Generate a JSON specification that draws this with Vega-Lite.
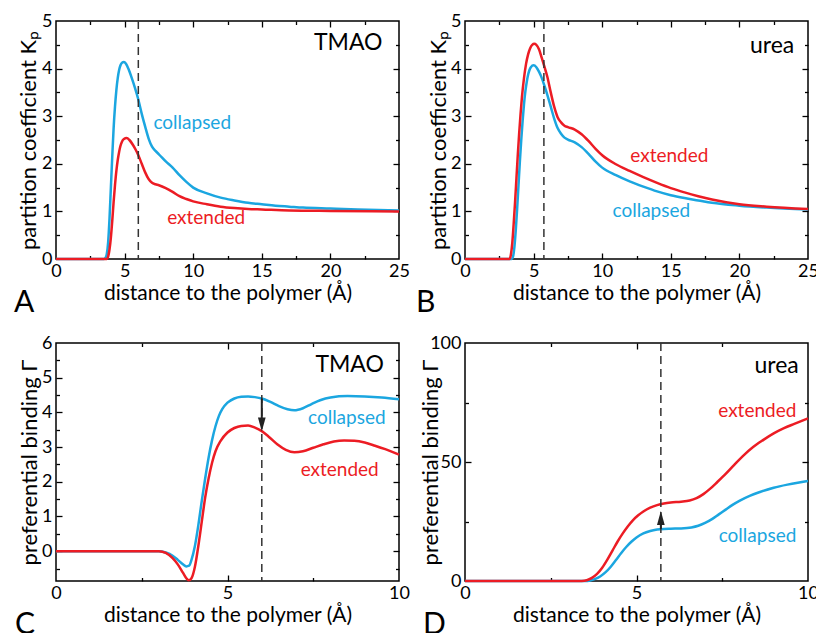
{
"$schema":"https://vega.github.io/schema/vega-lite/v6.json",
"padding":{"left":13,"top":11,"right":0,"bottom":0},
"config":{"font":"Lato","view":{"stroke":"black","strokeWidth":1.5},
"axis":{"labelFont":"Lato","labelFontSize":18,"labelColor":"black","titleFont":"Lato","titleFontSize":21,"titleFontWeight":"normal","titleColor":"black","tickColor":"black","tickWidth":1.3},
"axisLeft":{"titleFontSize":22,"titleBaseline":"middle"},
"title":{"font":"Lato","fontSize":30,"fontWeight":"normal","color":"black"}},
"datasets":{
"A":[
{"x":0,"y":0,"s":"collapsed"},{"x":3.5,"y":0,"s":"collapsed"},{"x":3.6,"y":0.02,"s":"collapsed"},{"x":3.7,"y":0.1,"s":"collapsed"},{"x":3.8,"y":0.35,"s":"collapsed"},{"x":3.9,"y":0.85,"s":"collapsed"},{"x":4.0,"y":1.5,"s":"collapsed"},{"x":4.1,"y":2.15,"s":"collapsed"},{"x":4.2,"y":2.75,"s":"collapsed"},{"x":4.3,"y":3.2,"s":"collapsed"},{"x":4.4,"y":3.55,"s":"collapsed"},{"x":4.5,"y":3.8,"s":"collapsed"},{"x":4.6,"y":3.97,"s":"collapsed"},{"x":4.7,"y":4.07,"s":"collapsed"},{"x":4.8,"y":4.12,"s":"collapsed"},{"x":4.95,"y":4.14,"s":"collapsed"},{"x":5.1,"y":4.1,"s":"collapsed"},{"x":5.3,"y":3.98,"s":"collapsed"},{"x":5.5,"y":3.82,"s":"collapsed"},{"x":5.75,"y":3.6,"s":"collapsed"},{"x":6.0,"y":3.35,"s":"collapsed"},{"x":6.25,"y":3.05,"s":"collapsed"},{"x":6.5,"y":2.78,"s":"collapsed"},{"x":6.75,"y":2.53,"s":"collapsed"},{"x":7.0,"y":2.36,"s":"collapsed"},{"x":7.25,"y":2.27,"s":"collapsed"},{"x":7.5,"y":2.2,"s":"collapsed"},{"x":8.0,"y":2.05,"s":"collapsed"},{"x":8.5,"y":1.92,"s":"collapsed"},{"x":9.0,"y":1.76,"s":"collapsed"},{"x":9.5,"y":1.62,"s":"collapsed"},{"x":10,"y":1.5,"s":"collapsed"},{"x":11,"y":1.38,"s":"collapsed"},{"x":12,"y":1.29,"s":"collapsed"},{"x":13,"y":1.23,"s":"collapsed"},{"x":14,"y":1.18,"s":"collapsed"},{"x":15,"y":1.15,"s":"collapsed"},{"x":16,"y":1.12,"s":"collapsed"},{"x":17,"y":1.1,"s":"collapsed"},{"x":18,"y":1.08,"s":"collapsed"},{"x":20,"y":1.06,"s":"collapsed"},{"x":22,"y":1.04,"s":"collapsed"},{"x":25,"y":1.02,"s":"collapsed"},
{"x":0,"y":0,"s":"extended"},{"x":3.7,"y":0,"s":"extended"},{"x":3.8,"y":0.05,"s":"extended"},{"x":3.9,"y":0.2,"s":"extended"},{"x":4.0,"y":0.45,"s":"extended"},{"x":4.1,"y":0.8,"s":"extended"},{"x":4.2,"y":1.2,"s":"extended"},{"x":4.3,"y":1.55,"s":"extended"},{"x":4.4,"y":1.85,"s":"extended"},{"x":4.5,"y":2.08,"s":"extended"},{"x":4.6,"y":2.25,"s":"extended"},{"x":4.7,"y":2.38,"s":"extended"},{"x":4.8,"y":2.46,"s":"extended"},{"x":4.95,"y":2.52,"s":"extended"},{"x":5.15,"y":2.54,"s":"extended"},{"x":5.35,"y":2.5,"s":"extended"},{"x":5.6,"y":2.4,"s":"extended"},{"x":5.8,"y":2.3,"s":"extended"},{"x":6.0,"y":2.18,"s":"extended"},{"x":6.25,"y":2.0,"s":"extended"},{"x":6.5,"y":1.82,"s":"extended"},{"x":6.75,"y":1.68,"s":"extended"},{"x":7.0,"y":1.6,"s":"extended"},{"x":7.25,"y":1.57,"s":"extended"},{"x":7.5,"y":1.55,"s":"extended"},{"x":8.0,"y":1.49,"s":"extended"},{"x":8.5,"y":1.41,"s":"extended"},{"x":9.0,"y":1.32,"s":"extended"},{"x":9.5,"y":1.26,"s":"extended"},{"x":10,"y":1.21,"s":"extended"},{"x":11,"y":1.15,"s":"extended"},{"x":12,"y":1.1,"s":"extended"},{"x":13,"y":1.07,"s":"extended"},{"x":14,"y":1.05,"s":"extended"},{"x":15,"y":1.04,"s":"extended"},{"x":17,"y":1.02,"s":"extended"},{"x":20,"y":1.01,"s":"extended"},{"x":25,"y":1.0,"s":"extended"}
],
"B":[
{"x":0,"y":0,"s":"collapsed"},{"x":3.4,"y":0,"s":"collapsed"},{"x":3.5,"y":0.05,"s":"collapsed"},{"x":3.6,"y":0.25,"s":"collapsed"},{"x":3.7,"y":0.6,"s":"collapsed"},{"x":3.8,"y":1.05,"s":"collapsed"},{"x":3.9,"y":1.55,"s":"collapsed"},{"x":4.0,"y":2.05,"s":"collapsed"},{"x":4.1,"y":2.5,"s":"collapsed"},{"x":4.2,"y":2.9,"s":"collapsed"},{"x":4.3,"y":3.25,"s":"collapsed"},{"x":4.4,"y":3.52,"s":"collapsed"},{"x":4.5,"y":3.72,"s":"collapsed"},{"x":4.6,"y":3.87,"s":"collapsed"},{"x":4.7,"y":3.97,"s":"collapsed"},{"x":4.8,"y":4.03,"s":"collapsed"},{"x":5.0,"y":4.07,"s":"collapsed"},{"x":5.2,"y":4.03,"s":"collapsed"},{"x":5.4,"y":3.93,"s":"collapsed"},{"x":5.6,"y":3.8,"s":"collapsed"},{"x":5.8,"y":3.63,"s":"collapsed"},{"x":6.0,"y":3.45,"s":"collapsed"},{"x":6.25,"y":3.2,"s":"collapsed"},{"x":6.5,"y":2.95,"s":"collapsed"},{"x":6.75,"y":2.75,"s":"collapsed"},{"x":7.0,"y":2.63,"s":"collapsed"},{"x":7.25,"y":2.55,"s":"collapsed"},{"x":7.5,"y":2.51,"s":"collapsed"},{"x":8.0,"y":2.45,"s":"collapsed"},{"x":8.5,"y":2.35,"s":"collapsed"},{"x":9.0,"y":2.21,"s":"collapsed"},{"x":9.5,"y":2.05,"s":"collapsed"},{"x":10,"y":1.92,"s":"collapsed"},{"x":11,"y":1.76,"s":"collapsed"},{"x":12,"y":1.63,"s":"collapsed"},{"x":13,"y":1.52,"s":"collapsed"},{"x":14,"y":1.42,"s":"collapsed"},{"x":15,"y":1.34,"s":"collapsed"},{"x":16,"y":1.28,"s":"collapsed"},{"x":17,"y":1.23,"s":"collapsed"},{"x":18,"y":1.18,"s":"collapsed"},{"x":20,"y":1.12,"s":"collapsed"},{"x":22,"y":1.08,"s":"collapsed"},{"x":25,"y":1.04,"s":"collapsed"},
{"x":0,"y":0,"s":"extended"},{"x":3.25,"y":0,"s":"extended"},{"x":3.35,"y":0.1,"s":"extended"},{"x":3.45,"y":0.35,"s":"extended"},{"x":3.55,"y":0.75,"s":"extended"},{"x":3.65,"y":1.2,"s":"extended"},{"x":3.75,"y":1.7,"s":"extended"},{"x":3.85,"y":2.2,"s":"extended"},{"x":3.95,"y":2.65,"s":"extended"},{"x":4.05,"y":3.05,"s":"extended"},{"x":4.15,"y":3.4,"s":"extended"},{"x":4.3,"y":3.8,"s":"extended"},{"x":4.45,"y":4.1,"s":"extended"},{"x":4.6,"y":4.3,"s":"extended"},{"x":4.75,"y":4.43,"s":"extended"},{"x":4.9,"y":4.5,"s":"extended"},{"x":5.05,"y":4.52,"s":"extended"},{"x":5.2,"y":4.5,"s":"extended"},{"x":5.4,"y":4.4,"s":"extended"},{"x":5.6,"y":4.22,"s":"extended"},{"x":5.8,"y":4.03,"s":"extended"},{"x":6.0,"y":3.83,"s":"extended"},{"x":6.25,"y":3.5,"s":"extended"},{"x":6.5,"y":3.2,"s":"extended"},{"x":6.75,"y":2.98,"s":"extended"},{"x":7.0,"y":2.87,"s":"extended"},{"x":7.25,"y":2.8,"s":"extended"},{"x":7.5,"y":2.77,"s":"extended"},{"x":8.0,"y":2.72,"s":"extended"},{"x":8.5,"y":2.62,"s":"extended"},{"x":9.0,"y":2.48,"s":"extended"},{"x":9.5,"y":2.32,"s":"extended"},{"x":10,"y":2.18,"s":"extended"},{"x":11,"y":1.99,"s":"extended"},{"x":12,"y":1.85,"s":"extended"},{"x":13,"y":1.72,"s":"extended"},{"x":14,"y":1.6,"s":"extended"},{"x":15,"y":1.49,"s":"extended"},{"x":16,"y":1.4,"s":"extended"},{"x":17,"y":1.32,"s":"extended"},{"x":18,"y":1.25,"s":"extended"},{"x":20,"y":1.15,"s":"extended"},{"x":22,"y":1.1,"s":"extended"},{"x":25,"y":1.05,"s":"extended"}
],
"C":[
{"x":0,"y":0,"s":"collapsed"},{"x":3.0,"y":0,"s":"collapsed"},{"x":3.2,"y":-0.04,"s":"collapsed"},{"x":3.4,"y":-0.13,"s":"collapsed"},{"x":3.55,"y":-0.25,"s":"collapsed"},{"x":3.7,"y":-0.38,"s":"collapsed"},{"x":3.8,"y":-0.44,"s":"collapsed"},{"x":3.88,"y":-0.42,"s":"collapsed"},{"x":3.95,"y":-0.25,"s":"collapsed"},{"x":4.05,"y":0.15,"s":"collapsed"},{"x":4.15,"y":0.75,"s":"collapsed"},{"x":4.25,"y":1.45,"s":"collapsed"},{"x":4.35,"y":2.1,"s":"collapsed"},{"x":4.45,"y":2.7,"s":"collapsed"},{"x":4.55,"y":3.2,"s":"collapsed"},{"x":4.65,"y":3.6,"s":"collapsed"},{"x":4.75,"y":3.9,"s":"collapsed"},{"x":4.85,"y":4.1,"s":"collapsed"},{"x":5.0,"y":4.28,"s":"collapsed"},{"x":5.2,"y":4.4,"s":"collapsed"},{"x":5.4,"y":4.45,"s":"collapsed"},{"x":5.6,"y":4.46,"s":"collapsed"},{"x":5.8,"y":4.44,"s":"collapsed"},{"x":6.0,"y":4.4,"s":"collapsed"},{"x":6.25,"y":4.3,"s":"collapsed"},{"x":6.5,"y":4.18,"s":"collapsed"},{"x":6.75,"y":4.09,"s":"collapsed"},{"x":6.95,"y":4.06,"s":"collapsed"},{"x":7.2,"y":4.12,"s":"collapsed"},{"x":7.45,"y":4.24,"s":"collapsed"},{"x":7.7,"y":4.35,"s":"collapsed"},{"x":8.0,"y":4.43,"s":"collapsed"},{"x":8.5,"y":4.47,"s":"collapsed"},{"x":9.0,"y":4.46,"s":"collapsed"},{"x":9.5,"y":4.43,"s":"collapsed"},{"x":10,"y":4.38,"s":"collapsed"},
{"x":0,"y":0,"s":"extended"},{"x":3.0,"y":0,"s":"extended"},{"x":3.2,"y":-0.05,"s":"extended"},{"x":3.4,"y":-0.2,"s":"extended"},{"x":3.55,"y":-0.38,"s":"extended"},{"x":3.7,"y":-0.62,"s":"extended"},{"x":3.8,"y":-0.78,"s":"extended"},{"x":3.87,"y":-0.84,"s":"extended"},{"x":3.95,"y":-0.78,"s":"extended"},{"x":4.05,"y":-0.45,"s":"extended"},{"x":4.15,"y":0.15,"s":"extended"},{"x":4.25,"y":0.85,"s":"extended"},{"x":4.35,"y":1.55,"s":"extended"},{"x":4.45,"y":2.1,"s":"extended"},{"x":4.55,"y":2.55,"s":"extended"},{"x":4.65,"y":2.88,"s":"extended"},{"x":4.8,"y":3.18,"s":"extended"},{"x":5.0,"y":3.42,"s":"extended"},{"x":5.2,"y":3.55,"s":"extended"},{"x":5.4,"y":3.61,"s":"extended"},{"x":5.6,"y":3.62,"s":"extended"},{"x":5.8,"y":3.56,"s":"extended"},{"x":6.0,"y":3.46,"s":"extended"},{"x":6.2,"y":3.3,"s":"extended"},{"x":6.45,"y":3.08,"s":"extended"},{"x":6.7,"y":2.92,"s":"extended"},{"x":6.95,"y":2.85,"s":"extended"},{"x":7.2,"y":2.88,"s":"extended"},{"x":7.5,"y":2.98,"s":"extended"},{"x":7.8,"y":3.08,"s":"extended"},{"x":8.1,"y":3.16,"s":"extended"},{"x":8.4,"y":3.19,"s":"extended"},{"x":8.7,"y":3.18,"s":"extended"},{"x":9.0,"y":3.13,"s":"extended"},{"x":9.3,"y":3.04,"s":"extended"},{"x":9.6,"y":2.94,"s":"extended"},{"x":10,"y":2.78,"s":"extended"}
],
"D":[
{"x":0,"y":0,"s":"collapsed"},{"x":3.5,"y":0,"s":"collapsed"},{"x":3.65,"y":0.2,"s":"collapsed"},{"x":3.8,"y":0.9,"s":"collapsed"},{"x":3.95,"y":2.0,"s":"collapsed"},{"x":4.1,"y":3.7,"s":"collapsed"},{"x":4.25,"y":6.0,"s":"collapsed"},{"x":4.4,"y":8.8,"s":"collapsed"},{"x":4.55,"y":11.7,"s":"collapsed"},{"x":4.7,"y":14.3,"s":"collapsed"},{"x":4.85,"y":16.5,"s":"collapsed"},{"x":5.0,"y":18.3,"s":"collapsed"},{"x":5.2,"y":20.0,"s":"collapsed"},{"x":5.4,"y":21.0,"s":"collapsed"},{"x":5.6,"y":21.6,"s":"collapsed"},{"x":5.8,"y":21.9,"s":"collapsed"},{"x":6.0,"y":22.0,"s":"collapsed"},{"x":6.3,"y":22.1,"s":"collapsed"},{"x":6.6,"y":22.5,"s":"collapsed"},{"x":6.8,"y":23.2,"s":"collapsed"},{"x":7.0,"y":24.4,"s":"collapsed"},{"x":7.2,"y":26.0,"s":"collapsed"},{"x":7.4,"y":28.0,"s":"collapsed"},{"x":7.6,"y":30.0,"s":"collapsed"},{"x":7.8,"y":32.0,"s":"collapsed"},{"x":8.0,"y":33.7,"s":"collapsed"},{"x":8.3,"y":35.8,"s":"collapsed"},{"x":8.6,"y":37.4,"s":"collapsed"},{"x":9.0,"y":39.2,"s":"collapsed"},{"x":9.4,"y":40.5,"s":"collapsed"},{"x":9.7,"y":41.3,"s":"collapsed"},{"x":10,"y":42,"s":"collapsed"},
{"x":0,"y":0,"s":"extended"},{"x":3.4,"y":0,"s":"extended"},{"x":3.55,"y":0.3,"s":"extended"},{"x":3.7,"y":1.3,"s":"extended"},{"x":3.85,"y":3.0,"s":"extended"},{"x":4.0,"y":5.6,"s":"extended"},{"x":4.15,"y":9.0,"s":"extended"},{"x":4.3,"y":12.8,"s":"extended"},{"x":4.45,"y":16.6,"s":"extended"},{"x":4.6,"y":20.0,"s":"extended"},{"x":4.75,"y":23.0,"s":"extended"},{"x":4.9,"y":25.6,"s":"extended"},{"x":5.05,"y":27.6,"s":"extended"},{"x":5.2,"y":29.2,"s":"extended"},{"x":5.4,"y":30.8,"s":"extended"},{"x":5.6,"y":31.9,"s":"extended"},{"x":5.8,"y":32.6,"s":"extended"},{"x":6.0,"y":33.0,"s":"extended"},{"x":6.3,"y":33.3,"s":"extended"},{"x":6.55,"y":33.8,"s":"extended"},{"x":6.75,"y":34.8,"s":"extended"},{"x":6.95,"y":36.5,"s":"extended"},{"x":7.15,"y":38.8,"s":"extended"},{"x":7.35,"y":41.5,"s":"extended"},{"x":7.6,"y":45.0,"s":"extended"},{"x":7.85,"y":48.8,"s":"extended"},{"x":8.1,"y":52.5,"s":"extended"},{"x":8.4,"y":56.3,"s":"extended"},{"x":8.7,"y":59.3,"s":"extended"},{"x":9.0,"y":62.0,"s":"extended"},{"x":9.3,"y":64.2,"s":"extended"},{"x":9.6,"y":66.0,"s":"extended"},{"x":10,"y":68.3,"s":"extended"}
]
},
"columns":2,
"spacing":{"row":84,"column":66},
"bounds":"flush",
"concat":[
{
"width":343,"height":238,
"title":{"text":"A","orient":"bottom","anchor":"start","dx":-3,"dy":-19},
"resolve":{"axis":{"x":"independent","y":"independent"}},
"layer":[
{"data":{"name":"A"},"mark":{"type":"line","strokeWidth":2.5,"interpolate":"monotone"},
"encoding":{
"x":{"field":"x","type":"quantitative","scale":{"domain":[0,25],"nice":false},"axis":{"orient":"bottom","values":[0,5,10,15,20,25],"ticks":false,"domain":false,"grid":false,"labelFlush":false,"labelOverlap":false,"labelPadding":3,"title":"distance to the polymer (Å)","titlePadding":2}},
"y":{"field":"y","type":"quantitative","scale":{"domain":[0,5],"nice":false},"axis":{"orient":"left","values":[0,1,2,3,4,5],"ticks":false,"domain":false,"grid":false,"labelOverlap":false,"labelPadding":4,"title":"partition coefficient Kₚ","titleX":-28}},
"color":{"field":"s","type":"nominal","scale":{"domain":["collapsed","extended"],"range":["#1BA6E0","#EC1C24"]},"legend":null}}},
{"data":{"values":[{"x":0,"y":0}]},"mark":{"type":"point","opacity":0},
"encoding":{"x":{"field":"x","type":"quantitative","scale":{"domain":[0,25],"nice":false},"axis":{"orient":"bottom","values":[5,10,15,20],"labels":false,"tickSize":6,"offset":-6,"domain":false,"grid":false,"title":null}},
"y":{"field":"y","type":"quantitative","scale":{"domain":[0,5],"nice":false},"axis":{"orient":"left","values":[1,2,3,4],"labels":false,"tickSize":6,"offset":-6,"domain":false,"grid":false,"title":null}}}},
{"data":{"values":[{"x":0,"y":0}]},"mark":{"type":"point","opacity":0},
"encoding":{"x":{"field":"x","type":"quantitative","scale":{"domain":[0,25],"nice":false},"axis":{"orient":"bottom","values":[2.5,7.5,12.5,17.5,22.5],"labels":false,"tickSize":3.5,"offset":-3.5,"domain":false,"grid":false,"title":null}},
"y":{"field":"y","type":"quantitative","scale":{"domain":[0,5],"nice":false},"axis":{"orient":"left","values":[0.5,1.5,2.5,3.5,4.5],"labels":false,"tickSize":3.5,"offset":-3.5,"domain":false,"grid":false,"title":null}}}},
{"data":{"values":[{"x":0,"y":0}]},"mark":{"type":"point","opacity":0},
"encoding":{"x":{"field":"x","type":"quantitative","scale":{"domain":[0,25],"nice":false},"axis":{"orient":"top","values":[5,10,15,20],"labels":false,"tickSize":6,"offset":-6,"domain":false,"grid":false,"title":null}},
"y":{"field":"y","type":"quantitative","scale":{"domain":[0,5],"nice":false},"axis":{"orient":"right","values":[1,2,3,4],"labels":false,"tickSize":6,"offset":-6,"domain":false,"grid":false,"title":null}}}},
{"data":{"values":[{"x":0,"y":0}]},"mark":{"type":"point","opacity":0},
"encoding":{"x":{"field":"x","type":"quantitative","scale":{"domain":[0,25],"nice":false},"axis":{"orient":"top","values":[2.5,7.5,12.5,17.5,22.5],"labels":false,"tickSize":3.5,"offset":-3.5,"domain":false,"grid":false,"title":null}},
"y":{"field":"y","type":"quantitative","scale":{"domain":[0,5],"nice":false},"axis":{"orient":"right","values":[0.5,1.5,2.5,3.5,4.5],"labels":false,"tickSize":3.5,"offset":-3.5,"domain":false,"grid":false,"title":null}}}},
{"data":{"values":[{"x":6.0}]},"mark":{"type":"rule","color":"#333333","strokeWidth":1.5,"strokeDash":[8,5]},
"encoding":{"x":{"field":"x","type":"quantitative","scale":{"domain":[0,25],"nice":false},"axis":null}}},
{"data":{"values":[{"x":23.8,"y":4.53,"t":"TMAO"}]},"mark":{"type":"text","align":"right","baseline":"middle","fontSize":23,"color":"black"},
"encoding":{"x":{"field":"x","type":"quantitative","scale":{"domain":[0,25],"nice":false},"axis":null},"y":{"field":"y","type":"quantitative","scale":{"domain":[0,5],"nice":false},"axis":null},"text":{"field":"t"}}},
{"data":{"values":[{"x":7.1,"y":2.85,"t":"collapsed","s":"collapsed"},{"x":8.1,"y":0.86,"t":"extended","s":"extended"}]},"mark":{"type":"text","align":"left","baseline":"middle","fontSize":19},
"encoding":{"x":{"field":"x","type":"quantitative","scale":{"domain":[0,25],"nice":false},"axis":null},"y":{"field":"y","type":"quantitative","scale":{"domain":[0,5],"nice":false},"axis":null},"text":{"field":"t"},"color":{"field":"s","type":"nominal","scale":{"domain":["collapsed","extended"],"range":["#1BA6E0","#EC1C24"]},"legend":null}}}
]},
{
"width":343,"height":238,
"title":{"text":"B","orient":"bottom","anchor":"start","dx":-11,"dy":-19},
"resolve":{"axis":{"x":"independent","y":"independent"}},
"layer":[
{"data":{"name":"B"},"mark":{"type":"line","strokeWidth":2.5,"interpolate":"monotone"},
"encoding":{
"x":{"field":"x","type":"quantitative","scale":{"domain":[0,25],"nice":false},"axis":{"orient":"bottom","values":[0,5,10,15,20,25],"ticks":false,"domain":false,"grid":false,"labelFlush":false,"labelOverlap":false,"labelPadding":3,"title":"distance to the polymer (Å)","titlePadding":2}},
"y":{"field":"y","type":"quantitative","scale":{"domain":[0,5],"nice":false},"axis":{"orient":"left","values":[0,1,2,3,4,5],"ticks":false,"domain":false,"grid":false,"labelOverlap":false,"labelPadding":4,"title":"partition coefficient Kₚ","titleX":-27}},
"color":{"field":"s","type":"nominal","scale":{"domain":["collapsed","extended"],"range":["#1BA6E0","#EC1C24"]},"legend":null}}},
{"data":{"values":[{"x":0,"y":0}]},"mark":{"type":"point","opacity":0},
"encoding":{"x":{"field":"x","type":"quantitative","scale":{"domain":[0,25],"nice":false},"axis":{"orient":"bottom","values":[5,10,15,20],"labels":false,"tickSize":6,"offset":-6,"domain":false,"grid":false,"title":null}},
"y":{"field":"y","type":"quantitative","scale":{"domain":[0,5],"nice":false},"axis":{"orient":"left","values":[1,2,3,4],"labels":false,"tickSize":6,"offset":-6,"domain":false,"grid":false,"title":null}}}},
{"data":{"values":[{"x":0,"y":0}]},"mark":{"type":"point","opacity":0},
"encoding":{"x":{"field":"x","type":"quantitative","scale":{"domain":[0,25],"nice":false},"axis":{"orient":"bottom","values":[2.5,7.5,12.5,17.5,22.5],"labels":false,"tickSize":3.5,"offset":-3.5,"domain":false,"grid":false,"title":null}},
"y":{"field":"y","type":"quantitative","scale":{"domain":[0,5],"nice":false},"axis":{"orient":"left","values":[0.5,1.5,2.5,3.5,4.5],"labels":false,"tickSize":3.5,"offset":-3.5,"domain":false,"grid":false,"title":null}}}},
{"data":{"values":[{"x":0,"y":0}]},"mark":{"type":"point","opacity":0},
"encoding":{"x":{"field":"x","type":"quantitative","scale":{"domain":[0,25],"nice":false},"axis":{"orient":"top","values":[5,10,15,20],"labels":false,"tickSize":6,"offset":-6,"domain":false,"grid":false,"title":null}},
"y":{"field":"y","type":"quantitative","scale":{"domain":[0,5],"nice":false},"axis":{"orient":"right","values":[1,2,3,4],"labels":false,"tickSize":6,"offset":-6,"domain":false,"grid":false,"title":null}}}},
{"data":{"values":[{"x":0,"y":0}]},"mark":{"type":"point","opacity":0},
"encoding":{"x":{"field":"x","type":"quantitative","scale":{"domain":[0,25],"nice":false},"axis":{"orient":"top","values":[2.5,7.5,12.5,17.5,22.5],"labels":false,"tickSize":3.5,"offset":-3.5,"domain":false,"grid":false,"title":null}},
"y":{"field":"y","type":"quantitative","scale":{"domain":[0,5],"nice":false},"axis":{"orient":"right","values":[0.5,1.5,2.5,3.5,4.5],"labels":false,"tickSize":3.5,"offset":-3.5,"domain":false,"grid":false,"title":null}}}},
{"data":{"values":[{"x":5.75}]},"mark":{"type":"rule","color":"#333333","strokeWidth":1.5,"strokeDash":[8,5]},
"encoding":{"x":{"field":"x","type":"quantitative","scale":{"domain":[0,25],"nice":false},"axis":null}}},
{"data":{"values":[{"x":24.0,"y":4.48,"t":"urea"}]},"mark":{"type":"text","align":"right","baseline":"middle","fontSize":23,"color":"black"},
"encoding":{"x":{"field":"x","type":"quantitative","scale":{"domain":[0,25],"nice":false},"axis":null},"y":{"field":"y","type":"quantitative","scale":{"domain":[0,5],"nice":false},"axis":null},"text":{"field":"t"}}},
{"data":{"values":[{"x":10.75,"y":1.01,"t":"collapsed","s":"collapsed"},{"x":12.05,"y":2.16,"t":"extended","s":"extended"}]},"mark":{"type":"text","align":"left","baseline":"middle","fontSize":19},
"encoding":{"x":{"field":"x","type":"quantitative","scale":{"domain":[0,25],"nice":false},"axis":null},"y":{"field":"y","type":"quantitative","scale":{"domain":[0,5],"nice":false},"axis":null},"text":{"field":"t"},"color":{"field":"s","type":"nominal","scale":{"domain":["collapsed","extended"],"range":["#1BA6E0","#EC1C24"]},"legend":null}}}
]},
{
"width":343,"height":238,
"title":{"text":"C","orient":"bottom","anchor":"start","dx":-3,"dy":-19},
"resolve":{"axis":{"x":"independent","y":"independent"}},
"layer":[
{"data":{"name":"C"},"mark":{"type":"line","strokeWidth":2.5,"interpolate":"monotone"},
"encoding":{
"x":{"field":"x","type":"quantitative","scale":{"domain":[0,10],"nice":false},"axis":{"orient":"bottom","values":[0,5,10],"ticks":false,"domain":false,"grid":false,"labelFlush":false,"labelOverlap":false,"labelPadding":3,"title":"distance to the polymer (Å)","titlePadding":2}},
"y":{"field":"y","type":"quantitative","scale":{"domain":[-0.86,6],"nice":false,"zero":false},"axis":{"orient":"left","values":[0,1,2,3,4,5,6],"ticks":false,"domain":false,"grid":false,"labelOverlap":false,"labelPadding":4,"title":"preferential binding Γ","titleX":-27}},
"color":{"field":"s","type":"nominal","scale":{"domain":["collapsed","extended"],"range":["#1BA6E0","#EC1C24"]},"legend":null}}},
{"data":{"values":[{"x":0,"y":0}]},"mark":{"type":"point","opacity":0},
"encoding":{"x":{"field":"x","type":"quantitative","scale":{"domain":[0,10],"nice":false},"axis":{"orient":"bottom","values":[5],"labels":false,"tickSize":6,"offset":-6,"domain":false,"grid":false,"title":null}},
"y":{"field":"y","type":"quantitative","scale":{"domain":[-0.86,6],"nice":false,"zero":false},"axis":{"orient":"left","values":[0,1,2,3,4,5],"labels":false,"tickSize":6,"offset":-6,"domain":false,"grid":false,"title":null}}}},
{"data":{"values":[{"x":0,"y":0}]},"mark":{"type":"point","opacity":0},
"encoding":{"x":{"field":"x","type":"quantitative","scale":{"domain":[0,10],"nice":false},"axis":{"orient":"bottom","values":[2.5,7.5],"labels":false,"tickSize":3.5,"offset":-3.5,"domain":false,"grid":false,"title":null}},
"y":{"field":"y","type":"quantitative","scale":{"domain":[-0.86,6],"nice":false,"zero":false},"axis":{"orient":"left","values":[-0.5,0.5,1.5,2.5,3.5,4.5,5.5],"labels":false,"tickSize":3.5,"offset":-3.5,"domain":false,"grid":false,"title":null}}}},
{"data":{"values":[{"x":0,"y":0}]},"mark":{"type":"point","opacity":0},
"encoding":{"x":{"field":"x","type":"quantitative","scale":{"domain":[0,10],"nice":false},"axis":{"orient":"top","values":[5],"labels":false,"tickSize":6,"offset":-6,"domain":false,"grid":false,"title":null}},
"y":{"field":"y","type":"quantitative","scale":{"domain":[-0.86,6],"nice":false,"zero":false},"axis":{"orient":"right","values":[0,1,2,3,4,5],"labels":false,"tickSize":6,"offset":-6,"domain":false,"grid":false,"title":null}}}},
{"data":{"values":[{"x":0,"y":0}]},"mark":{"type":"point","opacity":0},
"encoding":{"x":{"field":"x","type":"quantitative","scale":{"domain":[0,10],"nice":false},"axis":{"orient":"top","values":[2.5,7.5],"labels":false,"tickSize":3.5,"offset":-3.5,"domain":false,"grid":false,"title":null}},
"y":{"field":"y","type":"quantitative","scale":{"domain":[-0.86,6],"nice":false,"zero":false},"axis":{"orient":"right","values":[-0.5,0.5,1.5,2.5,3.5,4.5,5.5],"labels":false,"tickSize":3.5,"offset":-3.5,"domain":false,"grid":false,"title":null}}}},
{"data":{"values":[{"x":6.0}]},"mark":{"type":"rule","color":"#333333","strokeWidth":1.5,"strokeDash":[8,5]},
"encoding":{"x":{"field":"x","type":"quantitative","scale":{"domain":[0,10],"nice":false},"axis":null}}},
{"data":{"values":[{"x":6.0,"y":4.4,"y2":3.7}]},"mark":{"type":"rule","color":"#222222","strokeWidth":2},
"encoding":{"x":{"field":"x","type":"quantitative","scale":{"domain":[0,10],"nice":false},"axis":null},"y":{"field":"y","type":"quantitative","scale":{"domain":[-0.86,6],"nice":false,"zero":false},"axis":null},"y2":{"field":"y2"}}},
{"data":{"values":[{"x":6.0,"y":3.65}]},"mark":{"type":"point","shape":"M-0.55,-1L0.55,-1L0,1Z","size":196,"filled":true,"color":"#222222","opacity":1},
"encoding":{"x":{"field":"x","type":"quantitative","scale":{"domain":[0,10],"nice":false},"axis":null},"y":{"field":"y","type":"quantitative","scale":{"domain":[-0.86,6],"nice":false,"zero":false},"axis":null}}},
{"data":{"values":[{"x":9.56,"y":5.37,"t":"TMAO"}]},"mark":{"type":"text","align":"right","baseline":"middle","fontSize":23,"color":"black"},
"encoding":{"x":{"field":"x","type":"quantitative","scale":{"domain":[0,10],"nice":false},"axis":null},"y":{"field":"y","type":"quantitative","scale":{"domain":[-0.86,6],"nice":false,"zero":false},"axis":null},"text":{"field":"t"}}},
{"data":{"values":[{"x":9.61,"y":3.84,"t":"collapsed","s":"collapsed"},{"x":9.41,"y":2.35,"t":"extended","s":"extended"}]},"mark":{"type":"text","align":"right","baseline":"middle","fontSize":19},
"encoding":{"x":{"field":"x","type":"quantitative","scale":{"domain":[0,10],"nice":false},"axis":null},"y":{"field":"y","type":"quantitative","scale":{"domain":[-0.86,6],"nice":false,"zero":false},"axis":null},"text":{"field":"t"},"color":{"field":"s","type":"nominal","scale":{"domain":["collapsed","extended"],"range":["#1BA6E0","#EC1C24"]},"legend":null}}}
]},
{
"width":343,"height":238,
"title":{"text":"D","orient":"bottom","anchor":"start","dx":4,"dy":-19},
"resolve":{"axis":{"x":"independent","y":"independent"}},
"layer":[
{"data":{"name":"D"},"mark":{"type":"line","strokeWidth":2.5,"interpolate":"monotone"},
"encoding":{
"x":{"field":"x","type":"quantitative","scale":{"domain":[0,10],"nice":false},"axis":{"orient":"bottom","values":[0,5,10],"ticks":false,"domain":false,"grid":false,"labelFlush":false,"labelOverlap":false,"labelPadding":3,"title":"distance to the polymer (Å)","titlePadding":2}},
"y":{"field":"y","type":"quantitative","scale":{"domain":[0,100],"nice":false},"axis":{"orient":"left","values":[0,50,100],"ticks":false,"domain":false,"grid":false,"labelOverlap":false,"labelPadding":4,"title":"preferential binding Γ","titleX":-35}},
"color":{"field":"s","type":"nominal","scale":{"domain":["collapsed","extended"],"range":["#1BA6E0","#EC1C24"]},"legend":null}}},
{"data":{"values":[{"x":0,"y":0}]},"mark":{"type":"point","opacity":0},
"encoding":{"x":{"field":"x","type":"quantitative","scale":{"domain":[0,10],"nice":false},"axis":{"orient":"bottom","values":[5],"labels":false,"tickSize":6,"offset":-6,"domain":false,"grid":false,"title":null}},
"y":{"field":"y","type":"quantitative","scale":{"domain":[0,100],"nice":false},"axis":{"orient":"left","values":[50],"labels":false,"tickSize":6,"offset":-6,"domain":false,"grid":false,"title":null}}}},
{"data":{"values":[{"x":0,"y":0}]},"mark":{"type":"point","opacity":0},
"encoding":{"x":{"field":"x","type":"quantitative","scale":{"domain":[0,10],"nice":false},"axis":{"orient":"bottom","values":[2.5,7.5],"labels":false,"tickSize":3.5,"offset":-3.5,"domain":false,"grid":false,"title":null}},
"y":{"field":"y","type":"quantitative","scale":{"domain":[0,100],"nice":false},"axis":{"orient":"left","values":[25,75],"labels":false,"tickSize":3.5,"offset":-3.5,"domain":false,"grid":false,"title":null}}}},
{"data":{"values":[{"x":0,"y":0}]},"mark":{"type":"point","opacity":0},
"encoding":{"x":{"field":"x","type":"quantitative","scale":{"domain":[0,10],"nice":false},"axis":{"orient":"top","values":[5],"labels":false,"tickSize":6,"offset":-6,"domain":false,"grid":false,"title":null}},
"y":{"field":"y","type":"quantitative","scale":{"domain":[0,100],"nice":false},"axis":{"orient":"right","values":[50],"labels":false,"tickSize":6,"offset":-6,"domain":false,"grid":false,"title":null}}}},
{"data":{"values":[{"x":0,"y":0}]},"mark":{"type":"point","opacity":0},
"encoding":{"x":{"field":"x","type":"quantitative","scale":{"domain":[0,10],"nice":false},"axis":{"orient":"top","values":[2.5,7.5],"labels":false,"tickSize":3.5,"offset":-3.5,"domain":false,"grid":false,"title":null}},
"y":{"field":"y","type":"quantitative","scale":{"domain":[0,100],"nice":false},"axis":{"orient":"right","values":[25,75],"labels":false,"tickSize":3.5,"offset":-3.5,"domain":false,"grid":false,"title":null}}}},
{"data":{"values":[{"x":5.71}]},"mark":{"type":"rule","color":"#333333","strokeWidth":1.5,"strokeDash":[8,5]},
"encoding":{"x":{"field":"x","type":"quantitative","scale":{"domain":[0,10],"nice":false},"axis":null}}},
{"data":{"values":[{"x":5.71,"y":21.9,"y2":27}]},"mark":{"type":"rule","color":"#222222","strokeWidth":2},
"encoding":{"x":{"field":"x","type":"quantitative","scale":{"domain":[0,10],"nice":false},"axis":null},"y":{"field":"y","type":"quantitative","scale":{"domain":[0,100],"nice":false},"axis":null},"y2":{"field":"y2"}}},
{"data":{"values":[{"x":5.71,"y":26.5}]},"mark":{"type":"point","shape":"M-0.55,1L0.55,1L0,-1Z","size":196,"filled":true,"color":"#222222","opacity":1},
"encoding":{"x":{"field":"x","type":"quantitative","scale":{"domain":[0,10],"nice":false},"axis":null},"y":{"field":"y","type":"quantitative","scale":{"domain":[0,100],"nice":false},"axis":null}}},
{"data":{"values":[{"x":9.73,"y":90.2,"t":"urea"}]},"mark":{"type":"text","align":"right","baseline":"middle","fontSize":23,"color":"black"},
"encoding":{"x":{"field":"x","type":"quantitative","scale":{"domain":[0,10],"nice":false},"axis":null},"y":{"field":"y","type":"quantitative","scale":{"domain":[0,100],"nice":false},"axis":null},"text":{"field":"t"}}},
{"data":{"values":[{"x":9.66,"y":18.9,"t":"collapsed","s":"collapsed"},{"x":9.66,"y":71.3,"t":"extended","s":"extended"}]},"mark":{"type":"text","align":"right","baseline":"middle","fontSize":19},
"encoding":{"x":{"field":"x","type":"quantitative","scale":{"domain":[0,10],"nice":false},"axis":null},"y":{"field":"y","type":"quantitative","scale":{"domain":[0,100],"nice":false},"axis":null},"text":{"field":"t"},"color":{"field":"s","type":"nominal","scale":{"domain":["collapsed","extended"],"range":["#1BA6E0","#EC1C24"]},"legend":null}}}
]}
]
}
